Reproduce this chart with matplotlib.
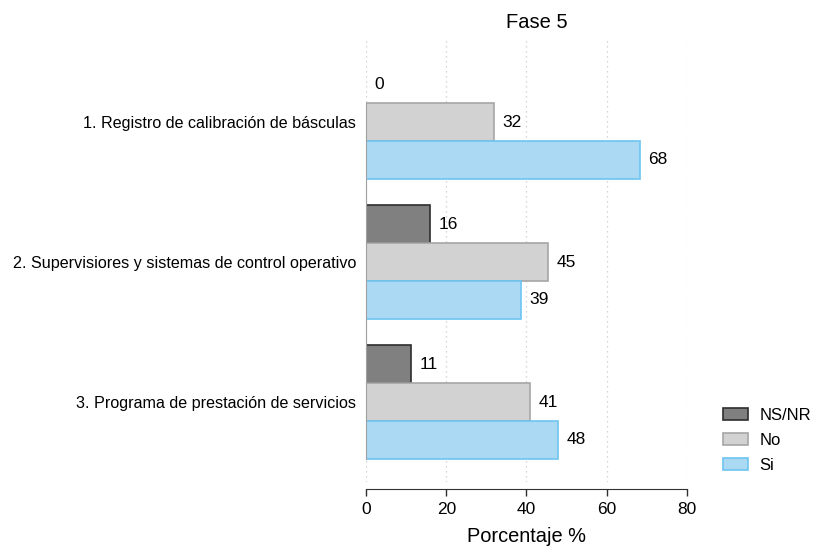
import matplotlib
matplotlib.use("Agg")
import matplotlib.pyplot as plt
from matplotlib.patches import Patch
import numpy as np

plt.rcParams['font.family'] = ['Liberation Sans', 'DejaVu Sans']

categories = [
  "1. Registro de calibración de básculas",
  "2. Supervisiores y sistemas de control operativo",
  "3. Programa de prestación de servicios",
]
series = ["NS/NR", "No", "Si"]
nsnr = [0.0, 15.9, 11.2]
no = [31.8, 45.4, 40.9]
si = [68.2, 38.6, 47.9]
xticks = [0, 20, 40, 60, 80]

faces = ["#808080", "#d2d2d2", "#abd9f4"]
edges = ["#2e2e2e", "#a6a6a6", "#6ec4f0"]

fig = plt.figure(figsize=(8.13, 5.47), dpi=100)
ax = fig.add_axes([0.4502, 0.1188, 0.3948, 0.8117])

h = 0.27
ypos = np.arange(len(categories))
for k, (name, vals) in enumerate(zip(series, [nsnr, no, si])):
  y = ypos + (k - 1) * h
  lw = [1.2 if v > 0 else 0 for v in vals]
  ax.barh(y, vals, height=h, color=faces[k], edgecolor=edges[k], linewidth=lw)
  for yi, v in zip(y, vals):
    ax.annotate(f"{v:.0f}", (v, yi), xytext=(6, 0), textcoords="offset points",
                va="center", ha="left", fontsize=12.5)

ax.set_xlim(0, 80)
ax.set_ylim(2.571, -0.6)
ax.set_yticks(ypos)
ax.set_yticklabels(categories)
ax.set_xticks(xticks)
ax.tick_params(axis='y', length=0, pad=7, labelsize=11.6)
ax.tick_params(axis='x', length=5, width=1, color="#303030", pad=4.5, labelsize=12.5)
ax.set_xlabel("Porcentaje %", fontsize=14.4, labelpad=7)

ax.grid(axis='x', linestyle=(0, (1, 3)), color="#c8c8c8", linewidth=0.9)
ax.set_axisbelow(True)
for s in ["top", "right"]:
  ax.spines[s].set_visible(False)
ax.spines["bottom"].set_position(("outward", 5))
ax.spines["bottom"].set_color("#303030")
ax.spines["left"].set_bounds(-h * 0.5, 2 + 1.5 * h)
ax.spines["left"].set_color("#a0a0a0")

fig.text(537 / 813, 1 - 22 / 547, "Fase 5", ha="center", va="center", fontsize=14.5)

handles = [Patch(facecolor=f, edgecolor=e, linewidth=1.2) for f, e in zip(faces, edges)]
fig.legend(handles=handles, labels=series, loc="upper left",
           bbox_to_anchor=(723 / 813, 1 - 408 / 547), frameon=False,
           fontsize=12, handlelength=1.5, handleheight=0.72,
           labelspacing=0.6, handletextpad=0.7, borderpad=0, borderaxespad=0)

fig.savefig("out.png", dpi=100)
